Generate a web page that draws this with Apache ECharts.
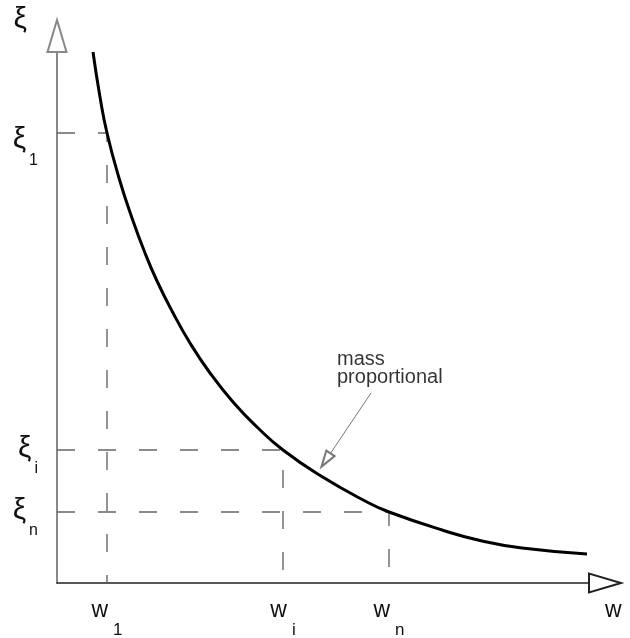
<!DOCTYPE html>
<html>
<head>
<meta charset="utf-8">
<script src="https://cdn.jsdelivr.net/npm/echarts@6/dist/echarts.min.js"></script>
<style>
  html, body { margin: 0; padding: 0; background: #fff; }
  #chart { width: 630px; height: 638px; }
</style>
</head>
<body>
<div id="chart"></div>
<script>
// damping ratio curve (mass proportional)
var curveW  = [36, 43, 50, 62, 75, 88, 100, 115, 133, 153, 176, 200, 226, 264, 310, 332, 385, 425, 465, 530];
var curveXi = [531, 486, 450, 405, 365, 330, 302, 272, 240, 210, 181, 156, 133, 107, 81, 71, 53, 42, 35, 29];

// marked frequencies w1, wi, wn and their ratios
var wTicks = [50, 226, 332];
var xiTicks = [450, 133, 71];
var tickSubs = ['1', 'i', 'n'];

// annotation
var noteText = 'mass\nproportional';
var notePos = [280, 215];
var noteArrowFrom = [314, 190];
var noteArrowTo = [269, 123];

var axisMaxW = 548;
var axisMaxXi = 547;

var font = "'Liberation Sans', Arial, sans-serif";

function guide(i) {
  return [[0, xiTicks[i]], [wTicks[i], xiTicks[i]], [wTicks[i], 0]];
}

var guideSeries = tickSubs.map(function (s, i) {
  return {
    name: 'guide ' + s,
    type: 'line',
    data: guide(i),
    showSymbol: false,
    silent: true,
    z: 2,
    lineStyle: { color: '#666', width: 1.4, type: [18, 23] }
  };
});

var dom = document.getElementById('chart');
var myChart = echarts.init(dom);

var option = {
  animation: false,
  backgroundColor: '#fff',
  grid: { left: 57, right: 25, top: 36, bottom: 55, containLabel: false, outerBoundsMode: 'none' },
  xAxis: {
    type: 'value',
    min: 0,
    max: axisMaxW,
    name: 'w',
    nameLocation: 'end',
    nameGap: 0,
    nameTextStyle: {
      fontFamily: font, fontSize: 23, color: '#111',
      align: 'left', verticalAlign: 'top', lineHeight: 23, padding: [16, 0, 0, 0]
    },
    axisLine: {
      lineStyle: { color: '#222', width: 1.5 },
      symbol: ['none', 'emptyTriangle'],
      symbolSize: [19, 32]
    },
    axisTick: { show: false },
    splitLine: { show: false },
    axisLabel: {
      customValues: wTicks,
      margin: 16,
      formatter: function (v) {
        var i = wTicks.indexOf(v);
        return '{g|w}{s|' + tickSubs[i] + '}';
      },
      rich: {
        g: { fontFamily: font, fontSize: 23, lineHeight: 23, color: '#111', verticalAlign: 'top' },
        s: { fontFamily: font, fontSize: 17, lineHeight: 17, color: '#111', verticalAlign: 'top', padding: [23, 0, 0, 5] }
      }
    }
  },
  yAxis: {
    type: 'value',
    min: 0,
    max: axisMaxXi,
    name: 'ξ',
    nameLocation: 'end',
    nameGap: 16,
    nameTextStyle: {
      fontFamily: font, fontSize: 30, color: '#111',
      align: 'right', verticalAlign: 'middle', padding: [0, 30, 0, 0]
    },
    axisLine: {
      lineStyle: { color: '#888', width: 2 },
      symbol: ['none', 'emptyTriangle'],
      symbolSize: [19, 32]
    },
    axisTick: { show: false },
    splitLine: { show: false },
    axisLabel: {
      customValues: xiTicks,
      margin: 19,
      formatter: function (v) {
        var i = xiTicks.indexOf(v);
        // the top label sits a little lower in the original
        if (i === 0) return '{g1|ξ}{s1|' + tickSubs[i] + '}';
        return '{g|ξ}{s|' + tickSubs[i] + '}';
      },
      rich: {
        g: { fontFamily: font, fontSize: 30, lineHeight: 32, color: '#111', verticalAlign: 'top' },
        s: { fontFamily: font, fontSize: 16, lineHeight: 16, color: '#111', verticalAlign: 'top', padding: [27, 0, 0, 3] },
        g1: { fontFamily: font, fontSize: 30, lineHeight: 32, color: '#111', verticalAlign: 'top', padding: [8, 0, 0, 0] },
        s1: { fontFamily: font, fontSize: 16, lineHeight: 16, color: '#111', verticalAlign: 'top', padding: [36, 0, 0, 3] }
      }
    }
  },
  series: guideSeries.concat([
    {
      name: 'mass proportional',
      type: 'line',
      data: curveW.map(function (w, i) { return [w, curveXi[i]]; }),
      smooth: true,
      showSymbol: false,
      silent: true,
      z: 10,
      lineStyle: { color: '#000', width: 3 }
    },
    {
      name: 'note',
      type: 'scatter',
      data: [notePos],
      symbolSize: 0,
      silent: true,
      z: 4,
      label: {
        show: true,
        position: 'right',
        distance: 0,
        formatter: noteText,
        fontFamily: font,
        fontSize: 20,
        lineHeight: 18,
        color: '#000',
        align: 'left'
      },
      markLine: {
        silent: true,
        animation: false,
        z: 4,
        symbol: ['none', 'emptyTriangle'],
        lineStyle: { color: '#777', width: 1, type: 'solid' },
        label: { show: false },
        data: [[
          { coord: noteArrowFrom, symbol: 'none' },
          { coord: noteArrowTo, symbol: 'emptyTriangle', symbolSize: [10, 16] }
        ]]
      }
    }
  ])
};

myChart.setOption(option, true);
</script>
</body>
</html>
